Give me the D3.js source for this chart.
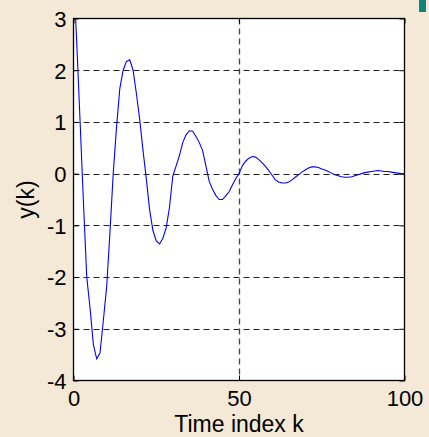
<!DOCTYPE html>
<html>
<head>
<meta charset="utf-8">
<script src="https://cdn.jsdelivr.net/npm/d3@7"></script>
<style>
html,body{margin:0;padding:0;background:#f3e9d6;}
svg{display:block;}
</style>
</head>
<body>
<svg id="chart" width="429" height="437"></svg>
<script>
// ---- data ----
const kValues = d3.range(0, 101); // time index k = 0..100
const yValues = [
  3.9, 2.5, 1.0, -0.55, -2.0, -2.6, -3.3, -3.58, -3.47, -2.85,
  -2.2, -1.15, 0.0, 0.9, 1.65, 2.0, 2.17, 2.2, 2.0, 1.55,
  1.05, 0.45, -0.1, -0.7, -1.1, -1.3, -1.36, -1.25, -1.05, -0.65,
  -0.05, 0.15, 0.35, 0.6, 0.75, 0.83, 0.82, 0.72, 0.6, 0.45,
  0.15, -0.15, -0.3, -0.42, -0.5, -0.5, -0.43, -0.35, -0.22, -0.1,
  0.0, 0.15, 0.24, 0.3, 0.33, 0.32, 0.27, 0.21, 0.14, 0.06,
  -0.03, -0.12, -0.16, -0.18, -0.18, -0.16, -0.12, -0.07, -0.02, 0.03,
  0.07, 0.11, 0.13, 0.13, 0.12, 0.09, 0.07, 0.04, 0.01, -0.02,
  -0.04, -0.06, -0.07, -0.07, -0.06, -0.04, -0.02, 0.0, 0.02, 0.03,
  0.04, 0.05, 0.06, 0.05, 0.04, 0.04, 0.03, 0.02, 0.01, 0.0,
  -0.01
];
const xTicks = [0, 50, 100];
const yTicks = [-4, -3, -2, -1, 0, 1, 2, 3];
const xGrid = [50];
const yGrid = [-3, -2, -1, 0, 1, 2];
const xLabel = "Time index k";
const yLabel = "y(k)";

// ---- layout ----
const svg = d3.select("#chart");
const pLeft = 73.5, pRight = 404.5, pTop = 18.5, pBottom = 380.5;

const x = d3.scaleLinear().domain([0, 100]).range([pLeft, pRight]);
const y = d3.scaleLinear().domain([-4, 3]).range([pBottom, pTop]);

// background
svg.append("rect").attr("width", 429).attr("height", 437).attr("fill", "#f3e9d6");
// teal corner mark
svg.append("rect").attr("x", 419).attr("y", 0).attr("width", 7).attr("height", 12).attr("fill", "#10837a");

// plot area
svg.append("rect").attr("x", pLeft).attr("y", pTop)
  .attr("width", pRight - pLeft).attr("height", pBottom - pTop).attr("fill", "#ffffff");

// grid
svg.append("g").selectAll("line").data(yGrid).join("line")
  .attr("x1", pLeft).attr("x2", pRight)
  .attr("y1", d => Math.round(y(d)) + 0.5).attr("y2", d => Math.round(y(d)) + 0.5)
  .attr("stroke", "#222").attr("stroke-width", 1).attr("stroke-dasharray", "6,4");
svg.append("g").selectAll("line").data(xGrid).join("line")
  .attr("y1", pTop).attr("y2", pBottom)
  .attr("x1", d => Math.round(x(d)) + 0.5).attr("x2", d => Math.round(x(d)) + 0.5)
  .attr("stroke", "#444").attr("stroke-width", 1.3).attr("stroke-dasharray", "6,4");

// clip
svg.append("clipPath").attr("id", "clip").append("rect")
  .attr("x", pLeft).attr("y", pTop).attr("width", pRight - pLeft).attr("height", pBottom - pTop);

// line
const pts = kValues.map((k, i) => [k, yValues[i]]);
svg.append("path").datum(pts)
  .attr("clip-path", "url(#clip)")
  .attr("fill", "none").attr("stroke", "#0000ff").attr("stroke-width", 1.1)
  .attr("d", d3.line().x(d => x(d[0])).y(d => y(d[1])));

// axes
const font = "'Liberation Sans', Arial, sans-serif";
const fmt = d => String(d);
const yAxis = d3.axisLeft(y).tickValues(yTicks).tickSize(-5).tickPadding(7).tickFormat(fmt);
const gy = svg.append("g").attr("transform", `translate(${pLeft},0)`).call(yAxis);
const yAxisR = d3.axisRight(y).tickValues(yTicks).tickSize(-5).tickFormat("");
const gyr = svg.append("g").attr("transform", `translate(${pRight},0)`).call(yAxisR);
const xAxis = d3.axisBottom(x).tickValues(xTicks).tickSize(-5).tickFormat(fmt);
const gx = svg.append("g").attr("transform", `translate(0,${pBottom})`).call(xAxis);
const xAxisT = d3.axisTop(x).tickValues(xTicks).tickSize(-5).tickFormat("");
const gxt = svg.append("g").attr("transform", `translate(0,${pTop})`).call(xAxisT);

[gy, gyr, gx, gxt].forEach(g => {
  g.select(".domain").remove();
  g.selectAll(".tick line").attr("stroke", "#000");
  g.selectAll("text").attr("font-family", font).attr("font-size", 22).attr("fill", "#000");
});
gx.selectAll("text").attr("y", 25.5).attr("dy", 0);
gy.selectAll("text").attr("dy", "0.36em");

// box
svg.append("rect").attr("x", pLeft).attr("y", pTop)
  .attr("width", pRight - pLeft).attr("height", pBottom - pTop)
  .attr("fill", "none").attr("stroke", "#000").attr("stroke-width", 1.3);

// labels
svg.append("text").attr("x", (pLeft + pRight) / 2).attr("y", 432)
  .attr("text-anchor", "middle").attr("font-family", font).attr("font-size", 23)
  .attr("fill", "#000").text(xLabel);
svg.append("text").attr("transform", `translate(34,${(pTop + pBottom) / 2}) rotate(-90)`)
  .attr("text-anchor", "middle").attr("font-family", font).attr("font-size", 23)
  .attr("fill", "#000").text(yLabel);
</script>
</body>
</html>
